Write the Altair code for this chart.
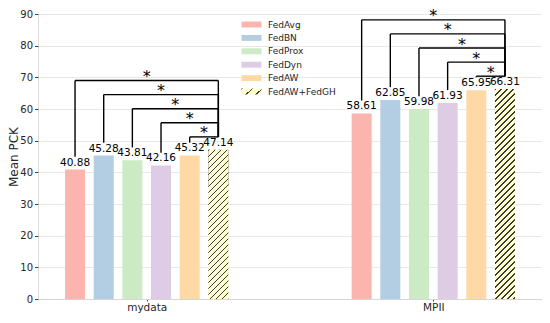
import altair as alt
import pandas as pd

groups = ["mydata", "MPII"]
methods = ["FedAvg", "FedBN", "FedProx", "FedDyn", "FedAW", "FedAW+FedGH"]
mydata_vals = [40.88, 45.28, 43.81, 42.16, 45.32, 47.14]
mpii_vals = [58.61, 62.85, 59.98, 61.93, 65.95, 66.31]
colors = ["#fbb4ae", "#b3cde3", "#ccebc5", "#decbe4", "#fed9a6", "#ffffcc"]

FONT = "DejaVu Sans"
TXT = "#262626"
W, H = 504, 285
YMAX = 90
BAR_W = 20
STEP = 0.1          # spacing between bars inside a group (category units)
OFF = 4.05          # bracket leg gap above a bar value
GAP = 4.45          # spacing between bracket levels
HATCH = "#3a3a3a"

rows, brackets = [], []
for gi, (g, vals) in enumerate(zip(groups, [mydata_vals, mpii_vals])):
    ref = len(methods) - 1
    pos = [gi + (mi - (len(methods) - 1) / 2) * STEP for mi in range(len(methods))]
    for mi, m in enumerate(methods):
        rows.append({"group": g, "method": m, "value": vals[mi], "pos": pos[mi],
                     "label": f"{vals[mi]:.2f}"})
    for i in range(ref):
        level = vals[ref] + OFF + (ref - 1 - i) * GAP
        brackets.append({"group": g, "xl": pos[i], "xr": pos[ref],
                         "lb": vals[i] + OFF, "rb": vals[ref] + OFF,
                         "level": level, "xm": (pos[i] + pos[ref]) / 2, "star": "*"})

df = pd.DataFrame(rows)
bk = pd.DataFrame(brackets)


def stripe_stops(w, h, spacing, frac, base_color):
    """Offsets for diagonal hatch stripes of a w x h box (bounding-box gradient)."""
    period = spacing / (w + h)
    out = []
    k = 0
    while k * period < 1:
        a = k * period
        b = min(1.0, a + period * frac)
        e = min(1.0, a + period)
        out += [(a, HATCH), (b, HATCH), (b, base_color), (e, base_color)]
        k += 1
    c = (w + h) / (w * w + h * h)
    return out, w * c, h * c


def hatch_fill(value):
    stops, x2, y2 = stripe_stops(BAR_W, value * H / YMAX, 6.0, 0.2, colors[-1])
    return alt.LinearGradient(gradient="linear", x1=0, y1=0, x2=x2, y2=y2,
                              stops=[alt.GradientStop(offset=o, color=c) for o, c in stops])


# hatched swatch for the legend entry (20 x 6 px symbol)
lg_stops, lg_x2, lg_y2 = stripe_stops(20, 6, 10.0, 0.16, colors[-1])
legend_hatch = ("{gradient: 'linear', x1: 0, y1: 0, x2: %.4f, y2: %.4f, stops: [%s]}" % (
    lg_x2, lg_y2, ", ".join("{offset: %.4f, color: '%s'}" % (o, c) for o, c in lg_stops)))
color_range = colors[:-1] + [alt.ExprRef(expr=legend_hatch)]

xscale = alt.Scale(domain=[-0.3618, 1.3618], nice=False, zero=False)
yscale = alt.Scale(domain=[0, YMAX], nice=False)

xaxis = alt.Axis(values=[0, 1], labelExpr="datum.value == 0 ? 'mydata' : 'MPII'",
                 title=None, grid=False, domainColor="#d6d6d6", tickColor="#444444",
                 tickSize=2, labelFont=FONT, labelFontSize=10.5, labelColor=TXT,
                 labelPadding=1.5)
yaxis = alt.Axis(values=list(range(0, 91, 10)), title="Mean PCK", titleFont=FONT,
                 titleFontSize=12, titleFontWeight="normal", titleColor=TXT,
                 titleAngle=270, titleX=-20.5, titleY=H / 2, titleBaseline="alphabetic",
                 titleAlign="center", grid=True, gridColor="#e8e8e8", domain=False,
                 tickSize=3.5, tickColor="#444444", labelFont=FONT, labelFontSize=10,
                 labelColor=TXT, labelPadding=2, labelOverlap=False)


def X(field, **kw):
    return alt.X(field, scale=xscale, axis=xaxis, **kw)


def Y(field, **kw):
    return alt.Y(field, scale=yscale, axis=yaxis, **kw)


base = alt.Chart(df)

bars = base.mark_bar(size=BAR_W).encode(
    x=X("pos:Q"),
    y=Y("value:Q"),
    color=alt.Color("method:N", scale=alt.Scale(domain=methods, range=color_range),
                    legend=alt.Legend(orient="none", legendX=209, legendY=6, title=None,
                                      symbolType="M-2.22,-0.66H2.22V0.66H-2.22Z",
                                      symbolSize=81,
                                      symbolStrokeWidth=0, symbolOpacity=1,
                                      labelFont=FONT, labelFontSize=9, labelColor=TXT,
                                      labelOffset=12, rowPadding=3.4)),
)

hatch_layers = []
for g, vals in zip(groups, [mydata_vals, mpii_vals]):
    hatch_layers.append(
        base.mark_bar(size=BAR_W, fill=hatch_fill(vals[-1])).encode(
            x=X("pos:Q"), y=Y("value:Q"),
        ).transform_filter((alt.datum.group == g) & (alt.datum.method == methods[-1]))
    )

labels = base.mark_text(font=FONT, fontSize=10.5, color="black", baseline="alphabetic",
                        dy=-4).encode(x=X("pos:Q"), y=Y("value:Q"), text="label:N")

bb = alt.Chart(bk)
left_legs = bb.mark_rule(color="black", strokeWidth=1.4).encode(
    x=X("xl:Q"), y=Y("lb:Q"), y2="level:Q")
right_legs = bb.mark_rule(color="black", strokeWidth=1.4).encode(
    x=X("xr:Q"), y=Y("rb:Q"), y2="level:Q")
horiz = bb.mark_rule(color="black", strokeWidth=1.4).encode(
    x=X("xl:Q"), x2="xr:Q", y=Y("level:Q"))
stars = bb.mark_text(font=FONT, fontSize=16, color="black", baseline="alphabetic",
                     dy=1.5).encode(x=X("xm:Q"), y=Y("level:Q"), text="star:N")

chart = alt.layer(bars, *hatch_layers, labels, left_legs, right_legs, horiz, stars).properties(
    width=W, height=H,
    autosize=alt.AutoSizeParams(type="none"),
    padding={"left": 30, "top": 6, "right": 0, "bottom": 16},
).configure_view(stroke=None).configure(background="white")

chart.save("out.html", embed_options={"renderer": "svg", "actions": False})
